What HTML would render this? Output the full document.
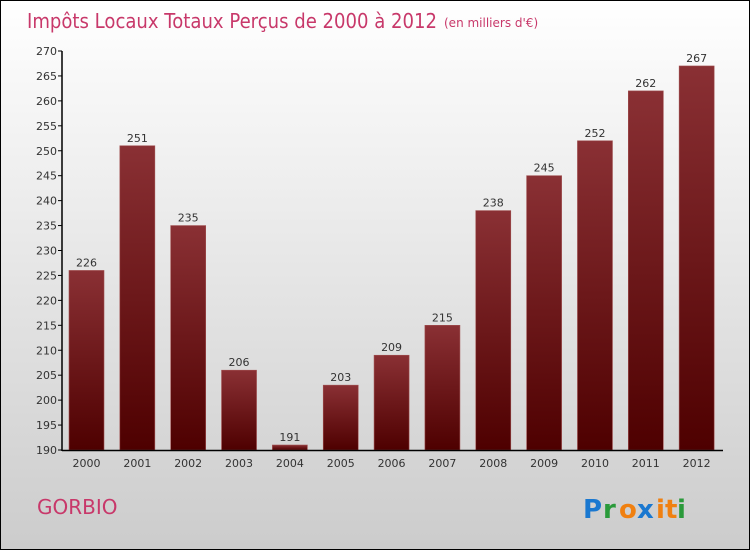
<!DOCTYPE html>
<html><head><meta charset="utf-8"><style>
body{margin:0}
#c{position:relative;width:748px;height:548px;border:1px solid #000;background:linear-gradient(#fff,#ccc);font-family:"DejaVu Sans","Liberation Sans",sans-serif;overflow:hidden}
</style></head><body>
<div id="c">
<svg id="s" width="748" height="548" style="position:absolute;left:0;top:0">
<defs><linearGradient id="g" x1="0" y1="0" x2="0" y2="1"><stop offset="0" stop-color="#8a3034"/><stop offset="1" stop-color="#4e0000"/></linearGradient></defs>
<text x="26" y="27" font-size="20" fill="#c8386a" font-family="'DejaVu Sans',sans-serif" textLength="410" lengthAdjust="spacingAndGlyphs">Impôts Locaux Totaux Perçus de 2000 à 2012</text>
<text x="443" y="26" font-size="12" fill="#c8386a">(en milliers d'€)</text>
<text x="36" y="513" font-size="20" fill="#c8386a">GORBIO</text>
<g font-size="26" font-weight="bold" font-family="'DejaVu Sans',sans-serif">
<text x="582" y="517" fill="#1a78d0">P</text><text x="602" y="517" fill="#2a9a3a">r</text><text x="618" y="517" fill="#f08010">o</text><text x="636" y="517" fill="#1a78d0">x</text><text x="655" y="517" fill="#f08010">i</text><text x="664" y="517" fill="#f08010">t</text><text x="676" y="517" fill="#2a9a3a">i</text>
</g>
<g id="plot"></g>
</svg>
</div>
<script>
const years=["2000","2001","2002","2003","2004","2005","2006","2007","2008","2009","2010","2011","2012"];
const values=[226,251,235,206,191,203,209,215,238,245,252,262,267];
const yTicks=[190,195,200,205,210,215,220,225,230,235,240,245,250,255,260,265,270];
const NS="http://www.w3.org/2000/svg";
const plotG=document.getElementById('plot');
const x0=61,x1=722,yMin=190,yMax=270,plotTop=50,plotBot=449;
const band=(x1-x0)/years.length;
function yScale(v){return plotBot-(v-yMin)/(yMax-yMin)*(plotBot-plotTop);}
function el(t,a){const e=document.createElementNS(NS,t);for(const k in a)e.setAttribute(k,a[k]);plotG.appendChild(e);return e;}
values.forEach((v,i)=>{
 const bx=x0+i*band+7;
 const r=el('rect',{x:bx,y:yScale(v),width:35,height:plotBot-yScale(v),fill:'url(#g)',stroke:'#a05050','stroke-width':0.6});
 
 
 const t=el('text',{x:bx+17.5,y:yScale(v)-4,'font-size':11,fill:'#333','text-anchor':'middle'});
 t.textContent=v;
 
 
 const xl=el('text',{x:bx+17.5,y:466,'font-size':11,fill:'#333','text-anchor':'middle'});
 xl.textContent=years[i];
 
 
});
yTicks.forEach(v=>{
 const l=el('line',{x1:x0-4,x2:x0,y1:yScale(v),y2:yScale(v),stroke:'#000'});
 
 
 const t=el('text',{x:x0-5,y:yScale(v)+4,'font-size':11,fill:'#333','text-anchor':'end'});
 t.textContent=v;
 
 
});
const ya=el('line',{x1:x0,x2:x0,y1:plotTop,y2:plotBot+1,stroke:'#000','stroke-width':1.5});


const xa=el('line',{x1:x0,x2:x1,y1:plotBot+0.5,y2:plotBot+0.5,stroke:'#000','stroke-width':1.5});


</script>
</body></html>
